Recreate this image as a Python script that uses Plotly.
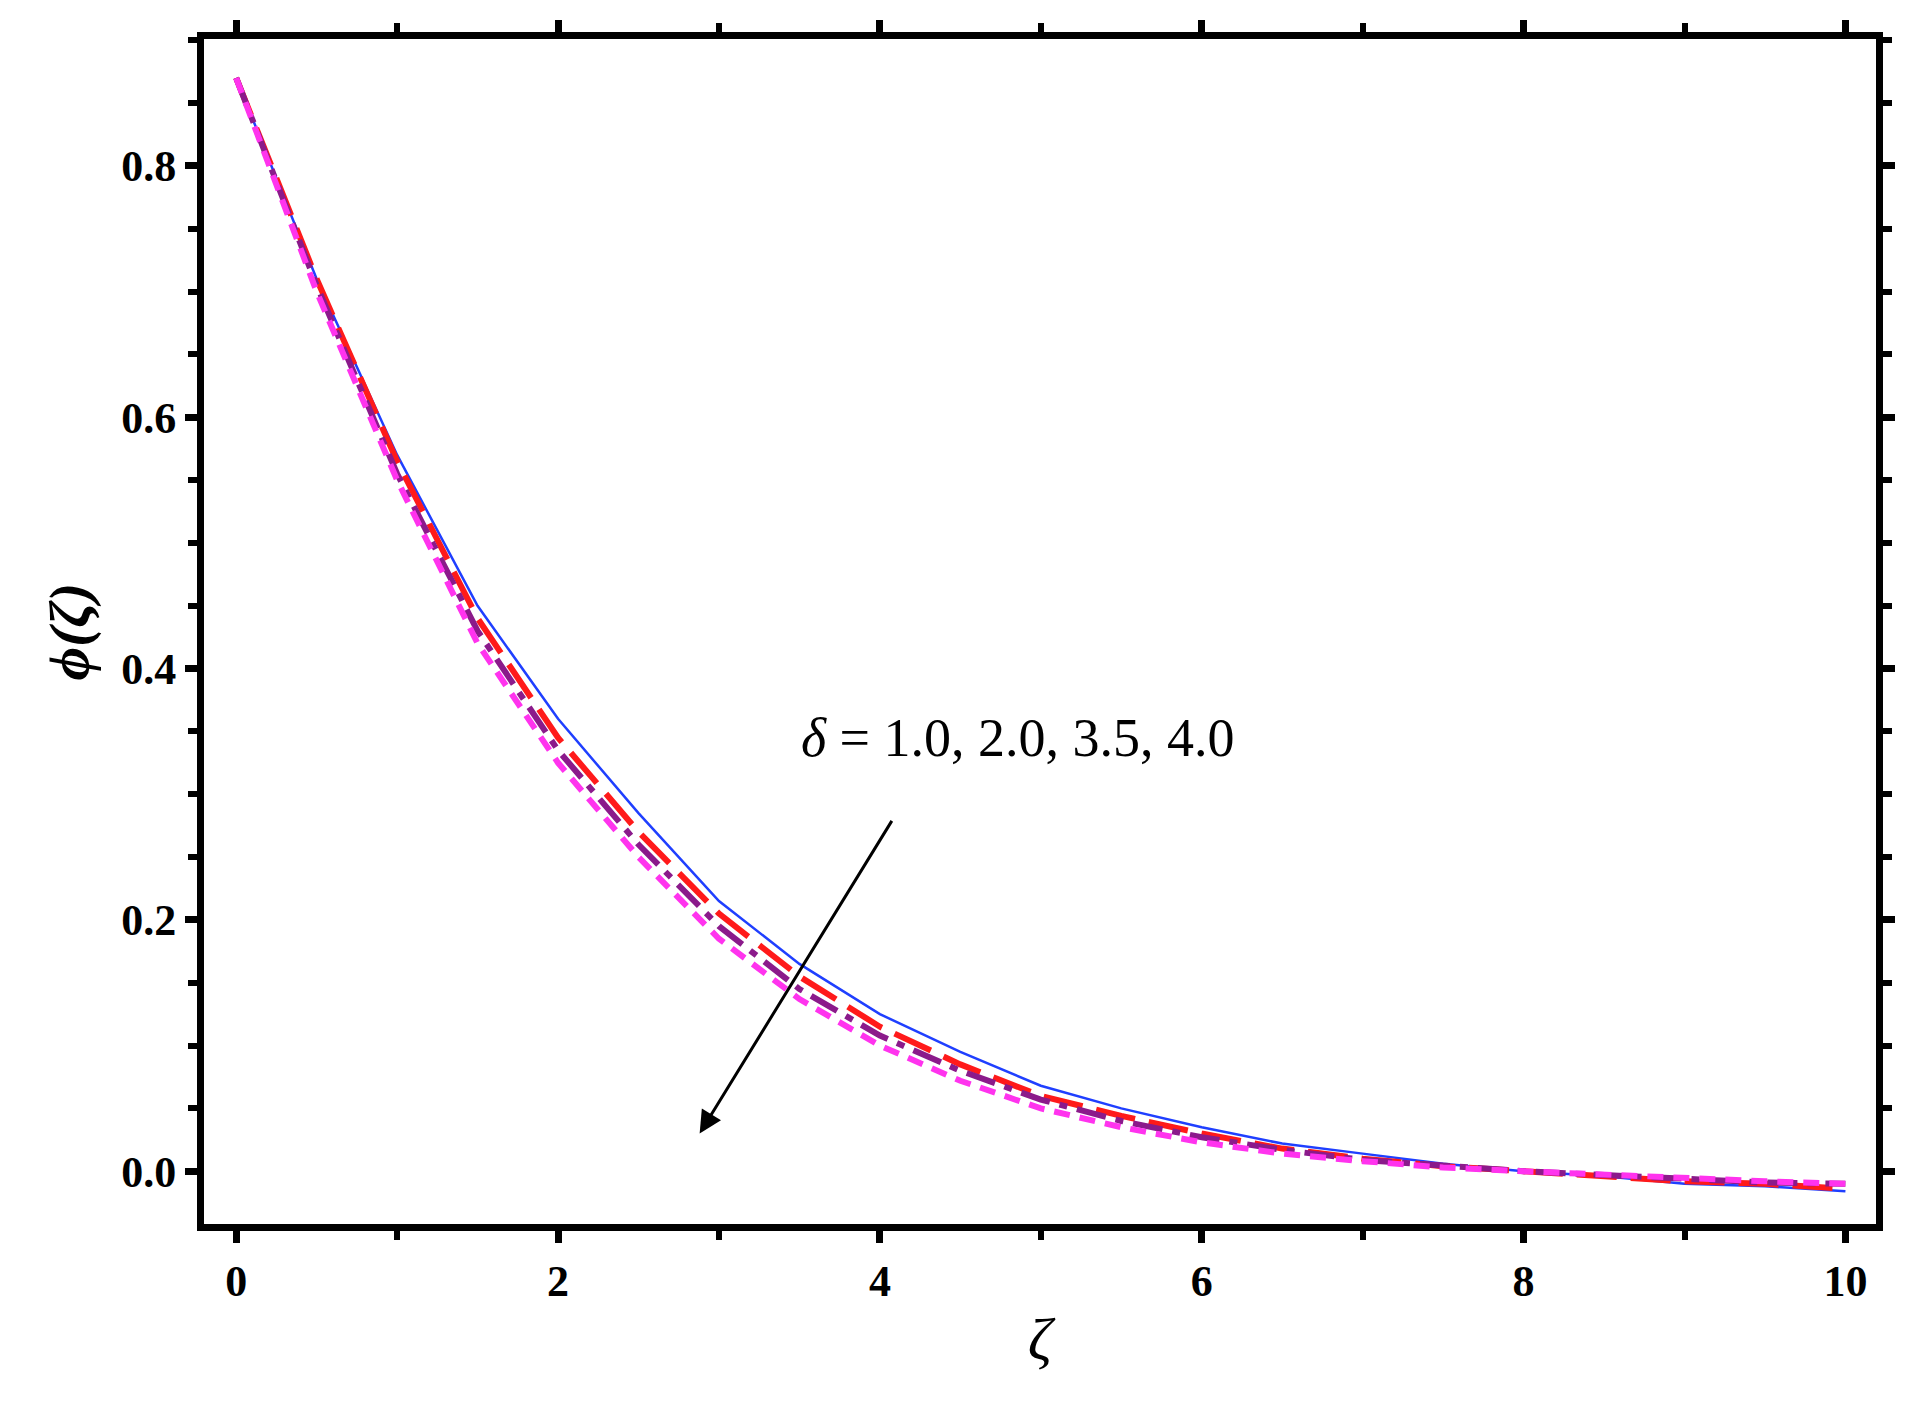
import plotly.graph_objects as go

zeta = [0,0.5,1,1.5,2,2.5,3,3.5,4,4.5,5,5.5,6,6.5,7,7.5,8,8.5,9,9.5,10]
phi_d1 = [0.87,0.71,0.57,0.45,0.36,0.285,0.215,0.165,0.125,0.095,0.068,0.05,0.035,0.022,0.014,0.006,0.0,-0.004,-0.01,-0.012,-0.016]
phi_d2 = [0.87,0.71,0.565,0.44,0.345,0.27,0.205,0.155,0.115,0.085,0.06,0.044,0.03,0.018,0.01,0.004,0.0,-0.004,-0.008,-0.01,-0.014]
phi_d35 = [0.87,0.705,0.555,0.43,0.335,0.26,0.195,0.145,0.108,0.08,0.057,0.04,0.027,0.017,0.009,0.004,0.0,-0.003,-0.006,-0.009,-0.01]
phi_d4 = [0.87,0.70,0.55,0.42,0.325,0.25,0.185,0.137,0.10,0.072,0.05,0.035,0.023,0.014,0.008,0.003,0.0,-0.003,-0.006,-0.008,-0.01]
xticks = [0,2,4,6,8,10]
yticks = [0.0,0.2,0.4,0.6,0.8]

fig = go.Figure()
fig.add_trace(go.Scatter(x=zeta, y=phi_d1, mode="lines", line=dict(color="#1f3fff", width=2.5)))
fig.add_trace(go.Scatter(x=zeta, y=phi_d2, mode="lines", line=dict(color="#ff1a1a", width=6, dash="40px,14px")))
fig.add_trace(go.Scatter(x=zeta, y=phi_d35, mode="lines", line=dict(color="#8b1a8b", width=6, dash="30px,10px,8px,10px")))
fig.add_trace(go.Scatter(x=zeta, y=phi_d4, mode="lines", line=dict(color="#ff33ee", width=6, dash="16px,10px")))

axis_common = dict(showgrid=False, zeroline=False, showline=True, linecolor="black", linewidth=7,
                   mirror="allticks", ticks="outside", ticklen=12, tickwidth=7, tickcolor="black",
                   tickfont=dict(family="Liberation Serif", size=44, color="black", weight="bold"))
fig.update_xaxes(range=[-0.2, 10.19], tickvals=xticks, ticktext=[str(v) for v in xticks],
                 minor=dict(dtick=1, ticks="outside", ticklen=9, tickwidth=6, tickcolor="black"),
                 title=dict(text="<i>ζ</i>", font=dict(family="Liberation Serif", size=60, color="black"), standoff=15),
                 **axis_common)
fig.update_yaxes(range=[-0.042, 0.901], tickvals=yticks, ticktext=[f"{v:.1f}" for v in yticks],
                 minor=dict(dtick=0.05, ticks="outside", ticklen=9, tickwidth=6, tickcolor="black"),
                 title=dict(text="<b><i>ϕ(ζ)</i></b>", font=dict(family="Liberation Serif", size=58, color="black"), standoff=15),
                 **axis_common)
fig.add_annotation(x=4.86, y=0.345, text="<i>δ</i> = 1.0, 2.0, 3.5, 4.0", showarrow=False,
                   font=dict(family="Liberation Serif", size=54, color="black"))
fig.add_annotation(x=2.88, y=0.03, ax=4.08, ay=0.28, xref="x", yref="y", axref="x", ayref="y",
                   showarrow=True, arrowhead=2, arrowsize=1.5, arrowwidth=3, arrowcolor="black", text="")
fig.update_layout(width=1913, height=1426, showlegend=False, plot_bgcolor="white", paper_bgcolor="white",
                  margin=dict(l=196, r=45, t=15, b=210))
fig.write_html("out.html")
